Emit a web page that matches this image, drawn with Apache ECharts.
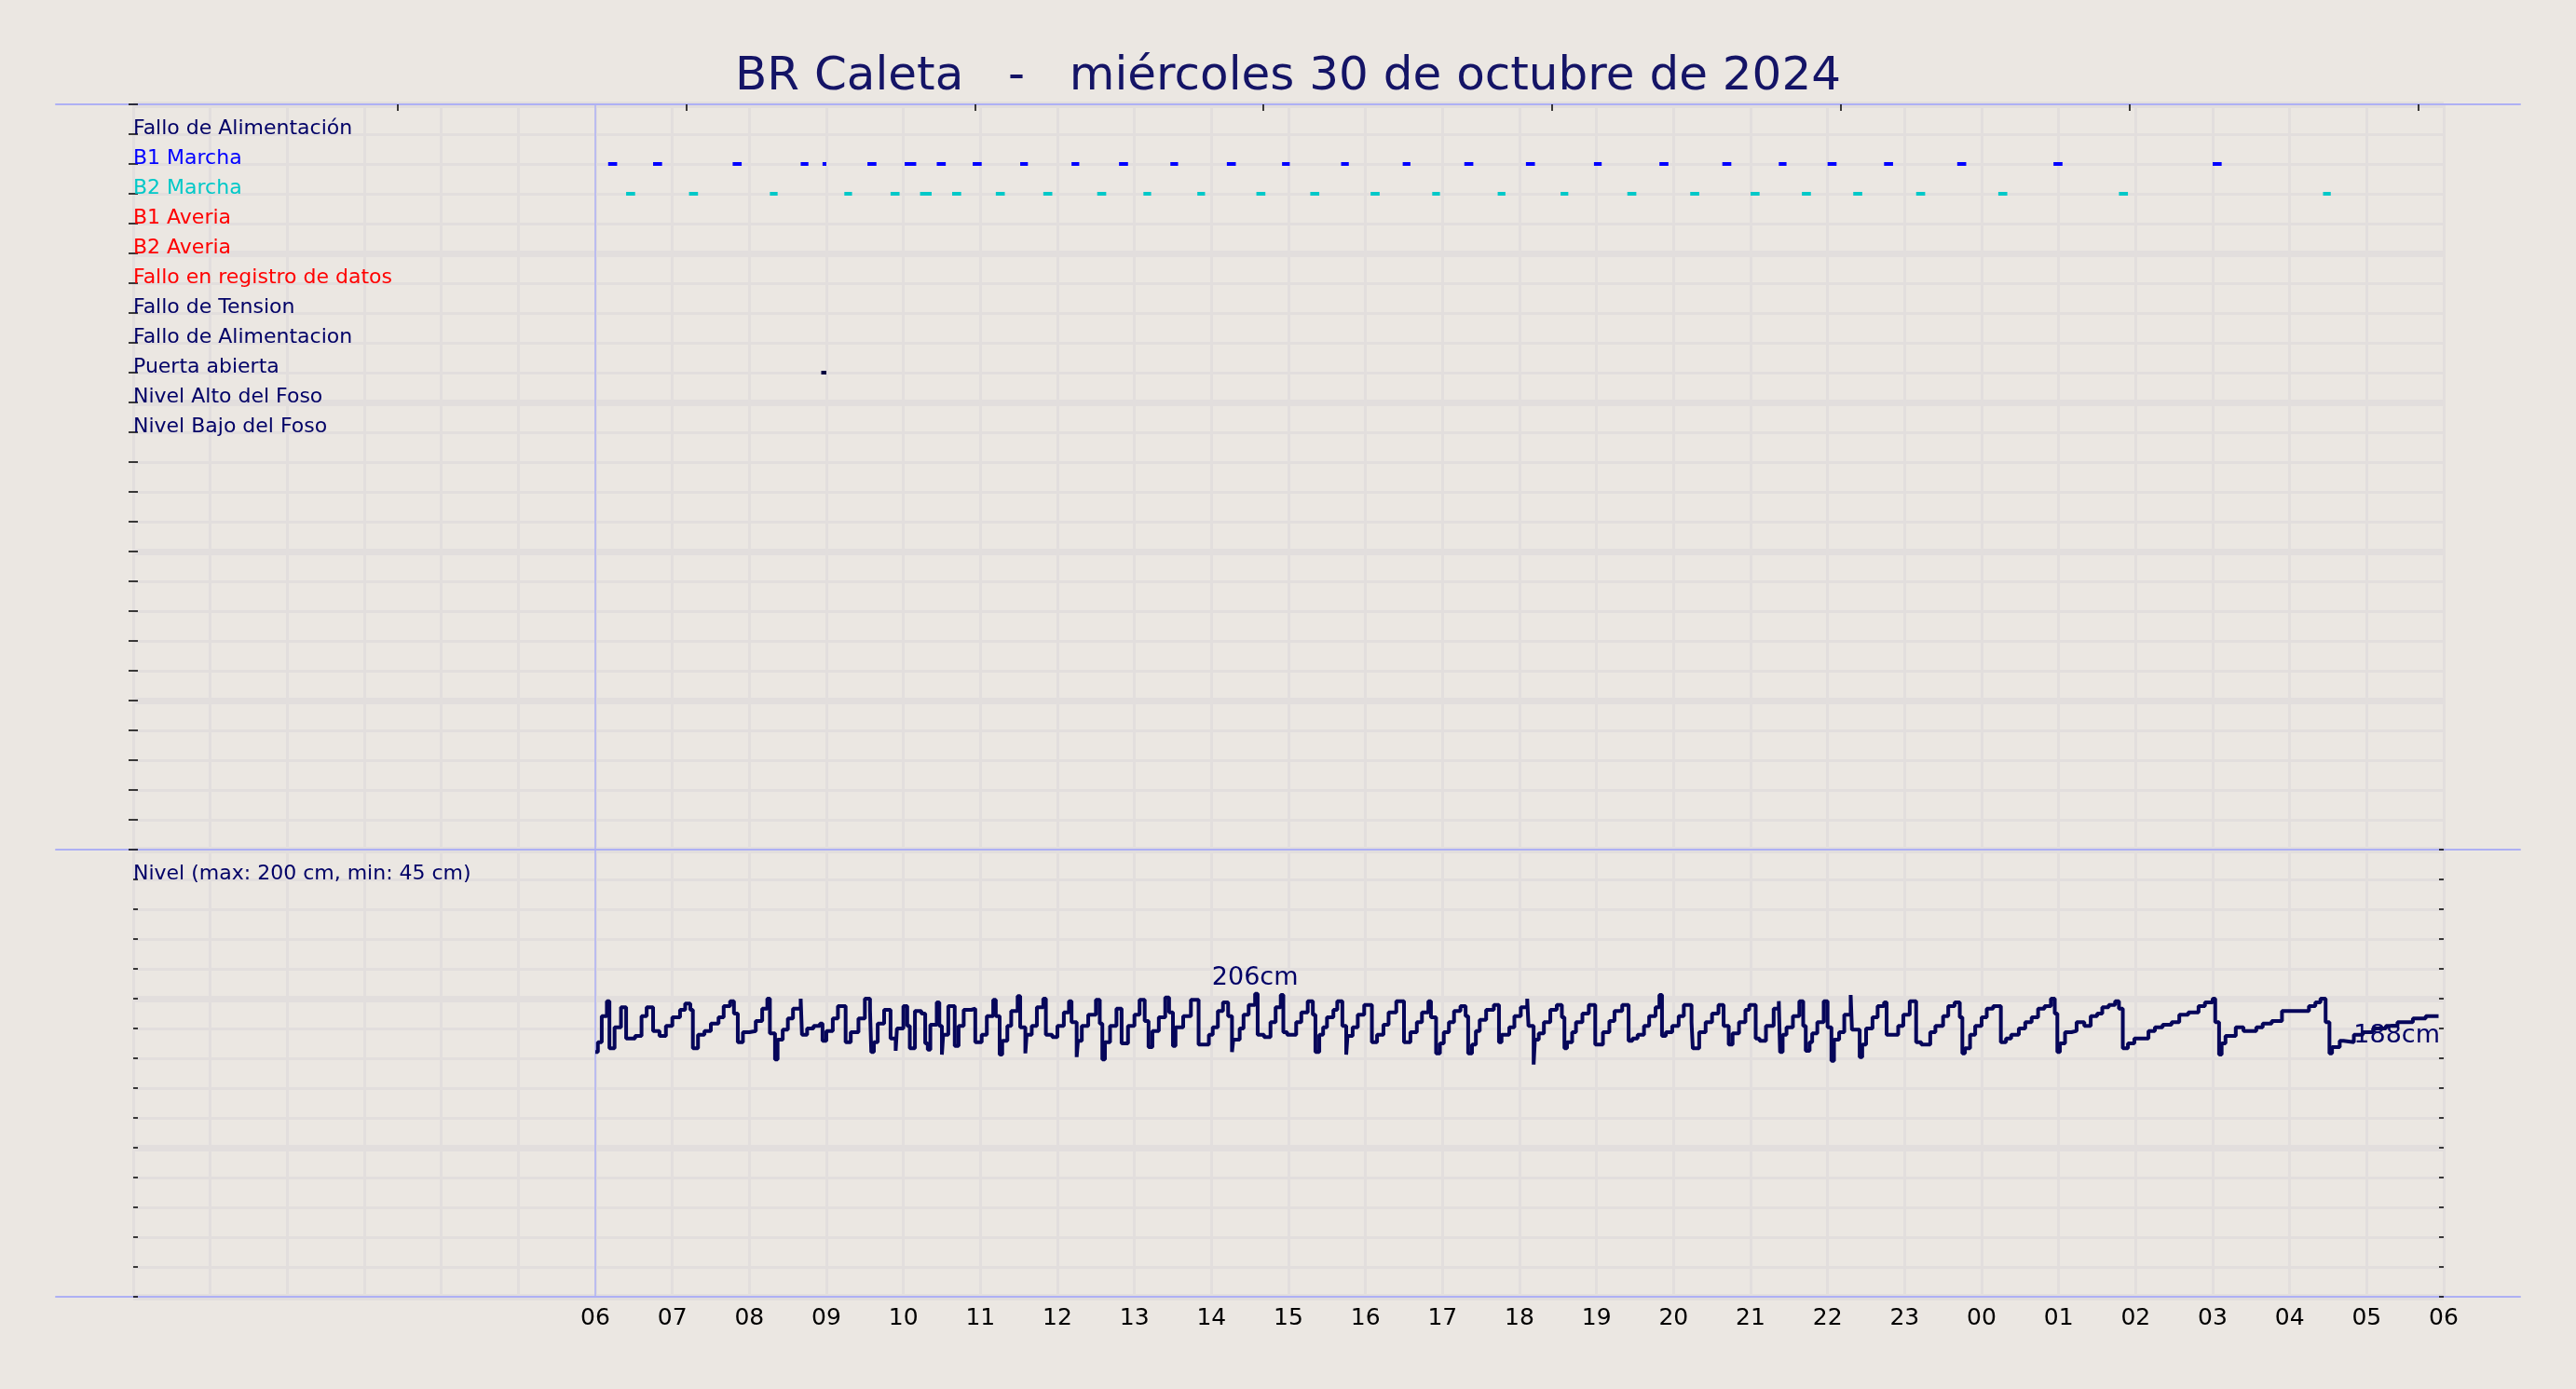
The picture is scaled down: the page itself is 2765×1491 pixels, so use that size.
<!DOCTYPE html>
<html>
<head>
<meta charset="utf-8">
<script src="https://cdn.jsdelivr.net/npm/echarts@6/dist/echarts.min.js"></script>
<style>
  html, body { margin: 0; padding: 0; background: #ebe7e2; }
  #main { width: 2765px; height: 1491px; }
</style>
</head>
<body>
<div id="main"></div>
<script>
// rows of the event panel, top to bottom
const eventNames = ['Fallo de Alimentación', 'B1 Marcha', 'B2 Marcha', 'B1 Averia', 'B2 Averia',
  'Fallo en registro de datos', 'Fallo de Tension', 'Fallo de Alimentacion', 'Puerta abierta',
  'Nivel Alto del Foso', 'Nivel Bajo del Foso'];
const eventColors = ['#000066', '#0000ff', '#00c8c8', '#ff0000', '#ff0000',
  '#ff0000', '#000066', '#000066', '#000066', '#000066', '#000066'];

// pump runs, minutes after 06:00
const b1On  = [10, 45, 107, 160, 177, 212, 241, 266, 294, 331, 371, 408, 448, 492, 535, 581, 629, 677, 725, 778, 829, 878, 922, 960, 1004, 1061, 1136, 1260];
const b1Off = [17, 52, 114, 166, 180, 219, 250, 273, 301, 337, 377, 415, 454, 499, 541, 587, 635, 684, 732, 784, 836, 885, 928, 967, 1011, 1068, 1143, 1267];
const b2On  = [24, 73, 136, 194, 230, 253, 278, 312, 349, 391, 427, 469, 515, 557, 604, 652, 703, 752, 804, 853, 900, 940, 980, 1029, 1093, 1187, 1346];
const b2Off = [31, 80, 142, 200, 237, 262, 285, 319, 356, 398, 433, 475, 522, 564, 611, 658, 709, 758, 811, 860, 907, 947, 987, 1036, 1100, 1194, 1352];
const doorOn = [176];
const doorOff = [180];

// pit level (cm), minutes after 06:00
const levelMin = [0, 2, 5, 9, 11, 15, 20, 24, 31, 36, 40, 45, 50, 55, 60, 66, 70, 74, 76, 80, 85, 90, 96, 100, 105, 108, 111,
  115, 120, 125, 130, 134, 136, 140, 142, 146, 150, 154, 160, 161, 165, 170, 175, 177, 180, 185, 189, 195, 199, 205, 210,
  214, 215, 217, 220, 225, 230, 234, 235, 240, 243, 245, 249, 254, 257, 259, 261, 266, 268, 270, 271, 275, 280, 283, 287,
  293, 296, 301, 305, 310, 312, 315, 317, 321, 324, 329, 331, 335, 336, 340, 344, 349, 351, 356, 360, 365, 369, 371, 375,
  376, 379, 384, 390, 393, 395, 397, 401, 406, 410, 415, 420, 424, 428, 431, 434, 439, 444, 447, 450, 452, 458, 464, 470,
  478, 481, 485, 489, 493, 496, 497, 502, 505, 509, 514, 516, 521, 526, 530, 534, 536, 539, 546, 550, 555, 559, 561, 564,
  567, 570, 575, 578, 582, 585, 586, 590, 594, 599, 605, 609, 614, 618, 624, 630, 635, 640, 644, 649, 651, 655, 658, 661,
  665, 669, 674, 678, 680, 683, 686, 689, 694, 700, 704, 706, 712, 716, 721, 726, 727, 731, 732, 735, 739, 744, 749, 753,
  755, 757, 761, 764, 769, 774, 779, 785, 790, 794, 800, 805, 808, 812, 817, 821, 826, 829, 831, 834, 839, 844, 848, 854,
  855, 860, 865, 870, 875, 879, 883, 886, 891, 896, 899, 904, 907, 912, 918, 922, 923, 925, 928, 933, 938, 941, 943, 946,
  948, 952, 957, 960, 963, 965, 969, 973, 978, 979, 985, 987, 990, 995, 999, 1004, 1006, 1015, 1019, 1024, 1029, 1033,
  1040, 1044, 1050, 1054, 1059, 1063, 1065, 1067, 1071, 1075, 1080, 1084, 1089, 1095, 1099, 1103, 1109, 1114, 1119, 1124,
  1129, 1134, 1137, 1139, 1141, 1145, 1150, 1154, 1160, 1165, 1170, 1174, 1179, 1184, 1187, 1190, 1194, 1199, 1210, 1215,
  1221, 1228, 1234, 1241, 1249, 1254, 1260, 1262, 1265, 1267, 1270, 1278, 1284, 1294, 1299, 1306, 1314, 1317, 1327, 1335,
  1340, 1344, 1348, 1351, 1353, 1359, 1362, 1370, 1377, 1385, 1395, 1404, 1416, 1426, 1436];
const levelCm = [159, 167, 188, 200, 162, 179, 195, 170, 172, 188, 195, 176, 172, 180, 187, 193, 198, 193, 162, 173, 176, 182, 187, 196, 200, 190, 167,
  175, 176, 184, 194, 202, 174, 153, 169, 177, 186, 194, 202, 173, 178, 180, 182, 168, 176, 186, 196, 167, 175, 186, 202,
  193, 159, 167, 182, 193, 170, 160, 178, 196, 180, 162, 192, 190, 166, 161, 181, 199, 180, 157, 173, 196, 164, 180, 193,
  194, 167, 173, 188, 201, 188, 157, 168, 180, 192, 204, 179, 158, 173, 180, 195, 202, 173, 171, 180, 191, 200, 183, 155,
  168, 180, 189, 201, 182, 153, 167, 180, 194, 166, 180, 189, 201, 184, 163, 176, 187, 203, 191, 164, 179, 188, 201, 165,
  173, 179, 192, 199, 188, 159, 169, 178, 189, 197, 206, 173, 171, 183, 195, 205, 175, 173, 183, 191, 200, 189, 159, 173,
  179, 187, 193, 200, 180, 157, 172, 179, 189, 197, 167, 173, 181, 191, 200, 167, 175, 183, 191, 200, 187, 158, 166, 175,
  183, 192, 196, 188, 158, 165, 176, 185, 193, 197, 167, 173, 179, 188, 195, 202, 180, 149, 169, 174, 183, 193, 197, 187,
  162, 167, 175, 183, 190, 197, 165, 175, 184, 192, 197, 168, 170, 173, 180, 188, 195, 205, 172, 175, 180, 188, 197, 183,
  162, 175, 183, 190, 197, 180, 165, 174, 183, 193, 197, 170, 168, 180, 194, 200, 159, 173, 179, 188, 200, 180, 160, 167,
  174, 183, 200, 179, 152, 169, 175, 189, 205, 177, 155, 165, 178, 187, 196, 199, 173, 180, 189, 200, 167, 165,
  175, 180, 188, 196, 199, 187, 158, 162, 173, 180, 187, 194, 196, 167, 170, 173, 178, 183, 187, 194,
  196, 202, 190, 159, 166, 175, 176, 183, 180, 188, 190, 195, 197, 200, 194, 162, 166, 170, 176, 179,
  181, 183, 189, 191, 196, 199, 202, 183, 157, 166, 172, 179, 176, 179, 182, 184, 192, 192, 192, 196,
  199, 202, 183, 158, 163, 168, 167, 173, 175, 178, 180, 183, 186, 188, 188];

// x axis: minutes from 00:00, labels only for the 24 h window
const dayStart = 360;
const xMax = 1800;
const hourStep = 60;
const topTicks = [206, 431, 656, 880, 1105, 1330, 1555, 1780];

const rowCount = 25;
const levelMinAxis = -38, levelMaxAxis = 322, levelStep = 24;
const levelCaption = 'Nivel (max: 200 cm, min: 45 cm)';
const title = 'BR Caleta   -   miércoles 30 de octubre de 2024';

const FONT = 'DejaVu Sans';
const NAVY = '#000066';
const GRID_C = '#e2dedd';
const FRAME_C = '#aeb0f4';
const LABEL_SIZE = 22;

let myChart = echarts.init(document.getElementById('main'));

// row labels sit on their grid line
const rich = {};
eventColors.forEach((c, i) => {
    rich['c' + i] = { color: c, fontSize: LABEL_SIZE, fontFamily: FONT, lineHeight: 12 };
});
rich.lvl = { color: NAVY, fontSize: LABEL_SIZE, fontFamily: FONT, lineHeight: 12 };

function spans(on, off, row) {
    return on.map((s, i) => [s + dayStart, off[i] + dayStart, row]);
}
function eventSeries(name, data, color) {
    return {
        name: name,
        type: 'custom',
        xAxisIndex: 0,
        yAxisIndex: 0,
        encode: { x: [0, 1], y: 2 },
        data: data,
        renderItem: function (params, api) {
            const a = api.coord([api.value(0), api.value(2)]);
            const b = api.coord([api.value(1), api.value(2)]);
            return {
                type: 'rect',
                shape: { x: a[0], y: a[1] - 2, width: Math.max(b[0] - a[0], 2), height: 4 },
                style: { fill: color }
            };
        },
        z: 5
    };
}

const frameX = (grid, pos) => ({
    type: 'value', gridIndex: grid, position: pos, min: 0, max: 1,
    axisLine: { show: true, onZero: false, lineStyle: { color: FRAME_C, width: 2 } },
    axisTick: { show: false }, axisLabel: { show: false }, splitLine: { show: false }
});

const levelData = levelMin.map((m, i) => [m + dayStart, levelCm[i]]);
const last = levelData[levelData.length - 1];

let option = {
    backgroundColor: '#ebe7e2',
    animation: false,
    textStyle: { fontFamily: FONT },
    title: {
        text: title,
        left: 'center',
        top: 53,
        textStyle: { fontSize: 50, fontWeight: 'normal', color: '#141466', fontFamily: FONT }
    },
    grid: [
        { left: 143, right: 142, top: 112, height: 800 },
        { left: 143, right: 142, top: 912, height: 480 },
        { left: 60, right: 60, top: 112, height: 800 },
        { left: 60, right: 60, top: 912, height: 480 }
    ],
    xAxis: [
        {
            type: 'value', gridIndex: 0, min: 0, max: xMax, interval: hourStep,
            axisLine: { show: false }, axisTick: { show: false }, axisLabel: { show: false },
            splitLine: { show: true, lineStyle: { color: GRID_C, width: 3 } }
        },
        {
            type: 'value', gridIndex: 0, position: 'top', min: 0, max: xMax,
            axisLine: { show: false }, axisLabel: { show: false }, splitLine: { show: false },
            axisTick: { show: true, inside: true, length: 7, customValues: topTicks,
                lineStyle: { color: '#000', width: 1.5 } }
        },
        {
            type: 'value', gridIndex: 1, min: 0, max: xMax, interval: hourStep,
            axisLine: { show: false }, axisTick: { show: false },
            axisLabel: {
                show: true, margin: 11, fontSize: 25, color: '#000', fontFamily: FONT,
                showMinLabel: true, showMaxLabel: true,
                formatter: function (v) {
                    if (v < dayStart) return '';
                    const h = Math.round(v / 60) % 24;
                    return (h < 10 ? '0' : '') + h;
                }
            },
            splitLine: { show: true, lineStyle: { color: GRID_C, width: 3 } }
        },
        frameX(2, 'top'),
        frameX(2, 'bottom'),
        frameX(3, 'bottom')
    ],
    yAxis: [
        {
            type: 'value', gridIndex: 0, inverse: true, min: 0, max: rowCount, interval: 1,
            axisLine: { show: false },
            axisTick: { show: true, inside: true, length: 5, lineStyle: { color: '#000', width: 1.5 } },
            axisLabel: {
                show: true, inside: true, margin: 0, align: 'left', verticalAlign: 'bottom',
                rich: rich,
                formatter: function (v) {
                    const i = Math.round(v) - 1;
                    return (i >= 0 && i < eventNames.length) ? '{c' + i + '|' + eventNames[i] + '}' : '';
                }
            },
            splitLine: { show: true, lineStyle: { color: GRID_C, width: 3 } }
        },
        {
            type: 'value', gridIndex: 0, position: 'right', inverse: true, min: 0, max: rowCount, interval: 1,
            axisLine: { show: false }, axisLabel: { show: false }, splitLine: { show: false },
            axisTick: { show: true, inside: true, length: 5, lineStyle: { color: '#000', width: 1.5 } }
        },
        {
            type: 'value', gridIndex: 0, inverse: true, min: 0, max: rowCount, interval: 5,
            axisLine: { show: false }, axisTick: { show: false }, axisLabel: { show: false },
            splitLine: { show: true, lineStyle: { color: GRID_C, width: 7 } }
        },
        {
            type: 'value', gridIndex: 1, min: levelMinAxis, max: levelMaxAxis, interval: levelStep,
            axisLine: { show: false },
            axisTick: { show: true, inside: true, length: 5, lineStyle: { color: '#000', width: 1.5 } },
            axisLabel: {
                show: true, inside: true, margin: 0, align: 'left', verticalAlign: 'bottom',
                rich: rich,
                formatter: function (v) { return v === levelMaxAxis - levelStep ? '{lvl|' + levelCaption + '}' : ''; }
            },
            splitLine: { show: true, lineStyle: { color: GRID_C, width: 3 } }
        },
        {
            type: 'value', gridIndex: 1, position: 'right', min: levelMinAxis, max: levelMaxAxis, interval: levelStep,
            axisLine: { show: false }, axisLabel: { show: false }, splitLine: { show: false },
            axisTick: { show: true, inside: true, length: 5, lineStyle: { color: '#000', width: 1.5 } }
        },
        {
            type: 'value', gridIndex: 1, min: levelMinAxis, max: levelMaxAxis, interval: levelStep * 5,
            axisLine: { show: false }, axisTick: { show: false }, axisLabel: { show: false },
            splitLine: { show: true, lineStyle: { color: GRID_C, width: 7 } }
        },
        { type: 'value', gridIndex: 2, show: false },
        { type: 'value', gridIndex: 3, show: false }
    ],
    series: [
        Object.assign(eventSeries('B1 Marcha', spans(b1On, b1Off, 2), eventColors[1]), {
            markLine: {
                silent: true, symbol: 'none', label: { show: false },
                lineStyle: { color: FRAME_C, width: 1.5, type: 'solid' },
                data: [{ xAxis: dayStart }]
            }
        }),
        eventSeries('B2 Marcha', spans(b2On, b2Off, 3), eventColors[2]),
        eventSeries('Puerta abierta', spans(doorOn, doorOff, 9), '#000040'),
        {
            name: 'Nivel',
            type: 'line',
            xAxisIndex: 2,
            yAxisIndex: 3,
            step: 'end',
            showSymbol: false,
            data: levelData,
            lineStyle: { color: '#06065a', width: 4 },
            z: 5,
            markLine: {
                silent: true, symbol: 'none', label: { show: false },
                lineStyle: { color: FRAME_C, width: 1.5, type: 'solid' },
                data: [{ xAxis: dayStart }]
            },
            markPoint: {
                symbol: 'circle', symbolSize: 1,
                itemStyle: { color: 'rgba(0,0,0,0)' },
                label: { show: true, fontSize: 27, color: NAVY, fontFamily: FONT, formatter: '{c}cm' },
                data: [
                    { type: 'max', label: { position: 'top', distance: 3 } },
                    { coord: last, value: last[1], label: { position: [2, 8], align: 'right', verticalAlign: 'top' } }
                ]
            }
        }
    ]
};
myChart.setOption(option);
</script>
</body>
</html>
